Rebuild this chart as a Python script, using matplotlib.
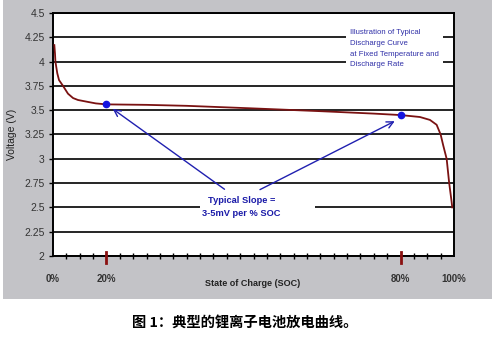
import matplotlib.pyplot as plt
from matplotlib.patches import Rectangle

plt.rcParams['font.family'] = ['Liberation Sans', 'DejaVu Sans']

# x runs in axis tick units (30 minor ticks across the axis)
soc_x = [0.1, 0.15, 0.18, 0.32, 0.45, 0.75, 1.12, 1.5, 1.87, 2.62, 3.2, 3.96, 7.0, 10.0, 14.7,
         20.0, 24.0, 26.0, 27.45, 28.2, 28.7, 29.0, 29.19, 29.45, 29.64, 29.82, 29.87]
voltage = [4.17, 4.08, 4.0, 3.88, 3.81, 3.75, 3.67, 3.625, 3.605, 3.585, 3.57, 3.56, 3.555, 3.545, 3.52,
           3.49, 3.465, 3.45, 3.43, 3.40, 3.35, 3.25, 3.14, 3.0, 2.75, 2.56, 2.50]
marked_x = [3.96, 26.0]
marked_v = [3.56, 3.45]
soc_ticks = [0, 4, 26, 30]
soc_labels = ['0%', '20%', '80%', '100%']
volt_ticks = [2, 2.25, 2.5, 2.75, 3, 3.25, 3.5, 3.75, 4, 4.25, 4.5]

W, H = 496, 338
fig = plt.figure(figsize=(W / 100, H / 100), dpi=100)
fig.add_artist(Rectangle((3 / W, (H - 299) / H), 489 / W, 299 / H,
                         transform=fig.transFigure, facecolor='#c3c3c7',
                         edgecolor='none', zorder=-5))

ax = fig.add_axes([53 / W, (H - 256) / H, 401 / W, 243 / H])
ax.set_facecolor('white')
ax.set_xlim(0, 30)
ax.set_ylim(2, 4.5)

ax.plot(soc_x, voltage, color='#7a1212', lw=1.3, zorder=3, solid_joinstyle='round')
ax.plot(marked_x, marked_v, 'o', color='#1414e0', ms=4.5, zorder=4)

ax.set_yticks(volt_ticks)
ax.set_yticklabels([f'{v:g}' for v in volt_ticks])
ax.yaxis.grid(True, color='black', lw=1.2)
ax.set_axisbelow(True)
ax.tick_params(axis='y', direction='out', length=3, width=1, labelsize=7.5,
               labelcolor='#333333', pad=3)

ax.set_xticks(soc_ticks)
ax.set_xticklabels(soc_labels, fontweight='bold')
ax.set_xticks(range(31), minor=True)
ax.tick_params(axis='x', which='minor', direction='inout', length=5, width=1)
ax.tick_params(axis='x', which='major', length=0, labelsize=7,
               labelcolor='#333333', pad=13)

# dark red marks at 20% and 80%
trans = ax.get_xaxis_transform()
for x in soc_ticks[1:3]:
    ax.plot([x, x], [-0.027, 0.016], color='#8a1010', lw=2, transform=trans,
            clip_on=False, zorder=5)

for s in ax.spines.values():
    s.set_linewidth(1.4)

ax.set_ylabel('Voltage (V)', fontsize=7.5, color='#222222')
ax.yaxis.set_label_coords(-0.09, 0.5)
fig.text(253 / W, 1 - 284 / H, 'State of Charge (SOC)', fontsize=6.5,
         fontweight='bold', color='#222222', ha='center', va='center')

ax.text(22.2, 4.335, 'Illustration of Typical\nDischarge Curve\nat Fixed Temperature and\nDischarge Rate',
        fontsize=5.6, color='#3030a8', ha='left', va='top', linespacing=1.75,
        bbox=dict(facecolor='white', edgecolor='none', pad=3), zorder=2)

ax.add_patch(Rectangle((11.0, 2.40), 8.6, 0.25, facecolor='white',
                       edgecolor='none', zorder=1))
ax.text(14.1, 2.505, 'Typical Slope =\n3-5mV per % SOC', fontsize=6.7, fontweight='bold',
        color='#1a1aa8', ha='center', va='center', multialignment='center',
        linespacing=1.55, zorder=2)

arrow = dict(arrowstyle='->', color='#2020b0', lw=1.0, mutation_scale=12)
ax.annotate('', xy=(4.3, 3.53), xytext=(13.0, 2.67), arrowprops=arrow, zorder=3)
ax.annotate('', xy=(25.75, 3.40), xytext=(15.3, 2.67), arrowprops=arrow, zorder=3)

fig.text(245 / W, 1 - 323 / H, '图 1：典型的锂离子电池放电曲线。', fontsize=10.3,
         fontweight='bold', family=['Noto Sans CJK SC', 'DejaVu Sans'],
         ha='center', va='center')

fig.savefig('out.png', dpi=100)
